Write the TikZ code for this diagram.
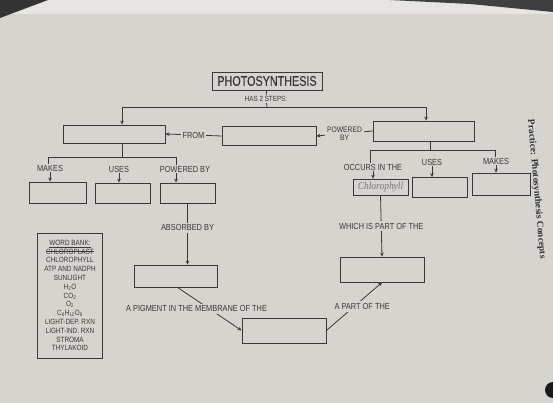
\documentclass[tikz,border=0pt]{standalone}
\usepackage{fontspec}
\setmainfont{Liberation Sans}[FakeStretch=0.84]
\newfontfamily\titlefont{Liberation Sans}[FakeStretch=0.77, FakeBold=0.6]
\newfontfamily\practicefont{Liberation Serif}
\newfontfamily\pencilfont{Liberation Serif}[FakeStretch=0.9]
\usetikzlibrary{arrows.meta}
\definecolor{paper}{RGB}{214,212,206}
\definecolor{ink}{RGB}{58,56,54}
\definecolor{pencil}{RGB}{118,116,120}
\newcommand{\struck}[1]{\setbox0\hbox{#1}\rlap{\rule[2.3pt]{\wd0}{0.6pt}}\box0}
\tikzset {
  % empty answer boxes
  blank/.style = {draw=ink, line width=0.8pt, inner sep=0pt},
  % linking words
  lbl/.style = {text=ink, font=\fontsize{8.8}{9.5}\selectfont, inner sep=1pt, align=center},
  mid/.style = {lbl, fill=paper, inner sep=2pt},
  % connectors
  link/.style = {draw=ink, line width=0.8pt},
  tip/.style = {link, -{Stealth[length=4pt, width=3.6pt]}},
}

\begin{document}
\begin{tikzpicture}[x=1pt, y=-1pt]
        \useasboundingbox (0,0) rectangle (553,403);
        \fill[paper] (0,0) rectangle (553,403);
        \fill[paper!60!white] (0,0) rectangle (553,14);
        % edges of the photo
        \fill[black!80] (0,0) -- (48,0) -- (0,18) -- cycle;
        \fill[black!75] (390,0) -- (553,0) -- (553,12) -- (470,4) -- cycle;
        \fill[black!90] (553,390) circle (8);

        \node[blank, minimum width=110, minimum height=18, font=\titlefont\fontsize{14}{14}\selectfont, text=ink] (title) at (267,81) {PHOTOSYNTHESIS};
        \node[lbl, font=\fontsize{7.5}{8}\selectfont] (steps) at (266,99) {HAS 2 STEPS:};
        \coordinate (split) at (267,107);

        % the two steps
        \node[blank, minimum width=102, minimum height=18] (lstep) at (114,134) {};
        \node[blank, minimum width=94, minimum height=19] (mstep) at (269,136) {};
        \node[blank, minimum width=101, minimum height=20] (rstep) at (423.5,131) {};

        \draw [link] (title) -- (steps);
        \draw [link] (steps) -- (split);
        \draw [tip] (split) -| ([xshift=8]lstep.north);
        \draw [tip] (split) -| ([xshift=2.5]rstep.north);

        \draw [tip] (mstep.west) to node[mid] {FROM} (lstep.east);
        \draw [tip] (rstep.west) to node[mid, font=\fontsize{8}{8}\selectfont] {POWERED\\BY} (mstep.east);

        % left step
        \coordinate (lsplit) at (122,157);
        \node[lbl] (lmk) at (50,168) {MAKES};
        \node[lbl] (lus) at (119,169) {USES};
        \node[lbl] (lpw) at (185,169) {POWERED BY};
        \draw [link] ([xshift=8]lstep.south) -- (lsplit);
        \draw [link] (lsplit) -| ([xshift=-2]lmk.north);
        \draw [link] (lsplit) -| ([xshift=-9]lpw.north);

        \node[blank, minimum width=57, minimum height=21] (lmkbox) at (58,192.5) {};
        \node[blank, minimum width=55, minimum height=20] (lusbox) at (122.5,193) {};
        \node[blank, minimum width=55, minimum height=20] (lpwbox) at (187.5,193) {};
        \draw [tip] (lmk.south) -- (lmk.south |- lmkbox.north);
        \draw [tip] (lus.south) -- (lus.south |- lusbox.north);
        \draw [tip] ([xshift=-9]lpw.south) -- ([xshift=-9]lpw.south |- lpwbox.north);

        % right step
        \coordinate (rsplit) at (430,150);
        \node[lbl] (roc) at (373,167) {OCCURS IN THE};
        \node[lbl] (rus) at (432,162) {USES};
        \node[lbl] (rmk) at (496,161) {MAKES};
        \draw [link] ([xshift=6.5]rstep.south) -- (rsplit);
        \draw [link] (rsplit) -| ([xshift=-3]roc.north);
        \draw [link] (rsplit) -| ([xshift=-1]rmk.north);

        \node[blank, minimum width=55, minimum height=16, text=pencil, font=\pencilfont\itshape\fontsize{10.5}{10.5}\selectfont] (rocbox) at (380.5,187) {Chlorophyll};
        \node[blank, minimum width=55, minimum height=20] (rusbox) at (439.5,187.5) {};
        \node[blank, minimum width=58, minimum height=22] (rmkbox) at (501,184) {};
        \draw [tip] (roc.south) -- (roc.south |- rocbox.north);
        \draw [tip] (rus.south) -- (rus.south |- rusbox.north);
        \draw [tip] (rmk.south) -- (rmk.south |- rmkbox.north);

        % lower chain
        \node[blank, minimum width=83, minimum height=22] (chlbox) at (175.5,276) {};
        \node[blank, minimum width=84, minimum height=25] (memb) at (284,330.5) {};
        \node[blank, minimum width=84, minimum height=25] (thyl) at (382,269.5) {};

        \draw [tip] (lpwbox.south) to node[mid, pos=0.4] {ABSORBED BY} (lpwbox.south |- chlbox.north);
        \draw [tip] ([xshift=2]chlbox.south) to node[mid, xshift=-13] {A PIGMENT IN THE MEMBRANE OF THE} (memb.west);
        \draw [tip] (memb.east) to node[mid, xshift=8] {A PART OF THE} (thyl.south);
        \draw [tip] (rocbox.south) to node[mid] {WHICH IS PART OF THE} (thyl.north);

        % word bank
        \node[blank, minimum width=65, minimum height=125, text=ink, align=center, font=\fontsize{7.6}{8.8}\selectfont] (bank) at (70,295.5) {\underline{WORD BANK:}\\ \struck{CHLOROPLAST}\\ CHLOROPHYLL\\ ATP AND NADPH\\ SUNLIGHT\\ H\textsubscript{2}O\\ CO\textsubscript{2}\\ O\textsubscript{2}\\ C\textsubscript{6}H\textsubscript{12}O\textsubscript{6}\\ LIGHT-DEP. RXN\\ LIGHT-IND. RXN\\ STROMA\\ THYLAKOID};

        \node[rotate=-85, anchor=west, text=black!80, font=\practicefont\bfseries\fontsize{9.5}{9.5}\selectfont] (practice) at (530,116) {Practice: Photosynthesis Concepts};
      \end{tikzpicture}
\end{document}
